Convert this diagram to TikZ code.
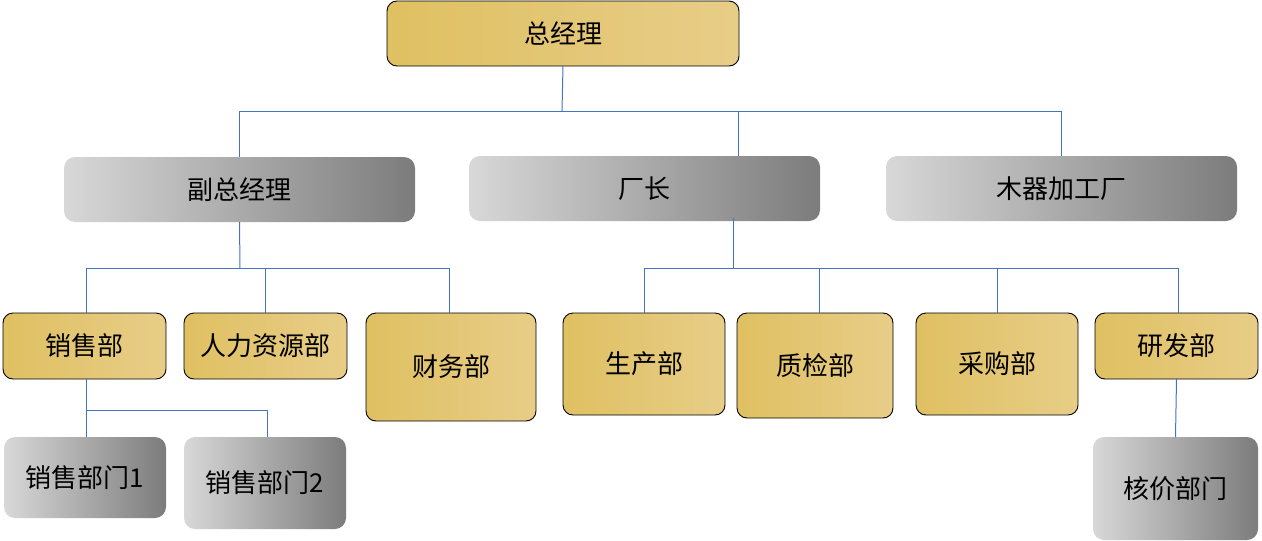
\documentclass[tikz,border=0pt]{standalone}
\usepackage{fontspec}
\setmainfont{Noto Sans CJK SC}
\usetikzlibrary{calc}
\definecolor{goldL}{HTML}{DFC062}
\definecolor{goldR}{HTML}{E8CD88}
\definecolor{grayL}{HTML}{D8D8D8}
\definecolor{grayR}{HTML}{7C7C7C}
\definecolor{conn}{HTML}{4472C4}
\tikzset{
  goldbox/.style={draw=black, line width=0.9pt, rounded corners=10pt, left color=goldL, right color=goldR,
    inner sep=0pt, outer sep=0pt, anchor=north west, font=\fontsize{26}{30}\selectfont, text=black},
  graybox/.style={rounded corners=11pt, left color=grayL, right color=grayR,
    inner sep=0pt, outer sep=0pt, anchor=north west, font=\fontsize{26}{30}\selectfont, text=black},
  link/.style={draw=conn, line width=1pt},
}
\begin{document}
\begin{tikzpicture}[x=1pt,y=-1pt]
\useasboundingbox (0,0) rectangle (1262,541);
% level 0
\node[goldbox, minimum width=352pt, minimum height=65pt] (zjl) at (387,1) {总经理};
% level 1
\node[graybox, minimum width=351pt, minimum height=65pt] (fzjl) at (64,157) {副总经理};
\node[graybox, minimum width=351pt, minimum height=65pt] (cz) at (469,156) {厂长};
\node[graybox, minimum width=351pt, minimum height=65pt] (mq) at (886,156) {木器加工厂};
% level 2
\node[goldbox, minimum width=163pt, minimum height=66pt] (xsb) at (3,313) {销售部};
\node[goldbox, minimum width=163pt, minimum height=66pt] (rl) at (184,313) {人力资源部};
\node[goldbox, minimum width=170pt, minimum height=108pt] (cw) at (366,313) {财务部};
\node[goldbox, minimum width=162pt, minimum height=102pt] (sc) at (563,313) {生产部};
\node[goldbox, minimum width=156pt, minimum height=105pt] (zj) at (737,313) {质检部};
\node[goldbox, minimum width=162pt, minimum height=102pt] (cg) at (916,313) {采购部};
\node[goldbox, minimum width=163pt, minimum height=66pt] (yf) at (1095,313) {研发部};
% level 3
\node[graybox, minimum width=162pt, minimum height=81pt] (xs1) at (4,437) {销售部门1};
\node[graybox, minimum width=162pt, minimum height=92pt] (xs2) at (184,437) {销售部门2};
\node[graybox, minimum width=165pt, minimum height=103pt] (hj) at (1093,437) {核价部门};
% connectors: top
\coordinate (b0) at (562,111);
\draw[link] (zjl.south) -- (b0);
\draw[link] (b0) -| (fzjl.north);
\draw[link] (b0) -| ([xshift=93.5pt]cz.north);
\draw[link] (b0) -| (mq.north);
% connectors: 副总经理
\coordinate (b1) at (240,268);
\draw[link] (fzjl.south) -- (b1);
\draw[link] (b1) -| ([xshift=1.5pt]xsb.north);
\draw[link] (b1) -| (rl.north);
\draw[link] (b1) -| ([xshift=-2pt]cw.north);
% connectors: 厂长
\coordinate (b2) at (733,268);
\draw[link] ([xshift=88.5pt,yshift=3pt]cz.south) -- (b2);
\draw[link] (b2) -| (sc.north);
\draw[link] (b2) -| ([xshift=4pt]zj.north);
\draw[link] (b2) -| (cg.north);
\draw[link] (b2) -| ([xshift=1.5pt]yf.north);
% connectors: 销售部
\coordinate (b3) at (86,410);
\draw[link] ([xshift=1.5pt]xsb.south) -- (b3);
\draw[link] (b3) -| ([xshift=1pt]xs1.north);
\draw[link] (b3) -| ([xshift=2pt]xs2.north);
% connectors: 研发部
\draw[link] (yf.south) -- (hj.north);
\end{tikzpicture}
\end{document}
